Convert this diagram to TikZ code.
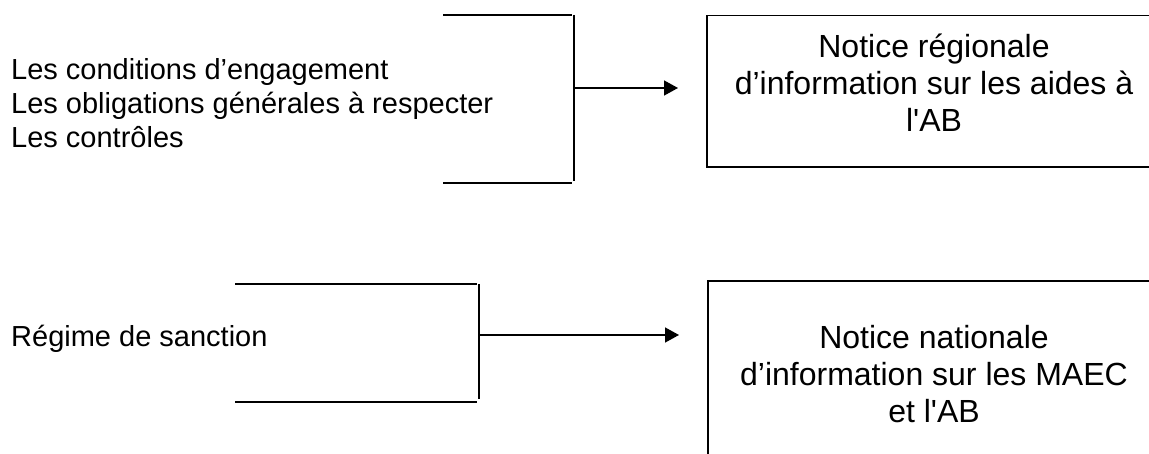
\documentclass[tikz,border=0pt]{standalone}
\usepackage{fontspec}
\setmainfont{Liberation Sans}
\usetikzlibrary{arrows.meta}
\tikzset{
  brk/.style={line width=1.5pt},
  arr/.style={line width=1.5pt,-{Triangle[length=14pt,width=15pt]}},
  notice/.style={draw,line width=1.5pt,rectangle,inner sep=0pt},
  noticetext/.style={align=center,font=\fontsize{32}{36.8}\selectfont,inner sep=0pt},
  lefttext/.style={align=left,font=\fontsize{29}{34.2}\selectfont,inner sep=0pt,anchor=base west}
}
\begin{document}
\begin{tikzpicture}[x=1pt,y=-1pt]
\useasboundingbox (0,0) rectangle (1149,454);
\clip (0,0) rectangle (1149,454);
% top group
\node[lefttext] (l1) at (11,148) {Les conditions d’engagement\\Les obligations générales à respecter\\Les contrôles};
\coordinate (b1a) at (443,15);
\coordinate (b1b) at (574,15);
\coordinate (b1c) at (574,183);
\coordinate (b1d) at (443,183);
\coordinate (b1m) at (574,88);
\coordinate (t1) at (678,88);
\draw[brk] (b1a) -- ([xshift=-2pt]b1b);
\draw[brk] (b1d) -- ([xshift=-2pt]b1c);
\draw[brk] (b1b) -- ([yshift=2pt]b1c);
\draw[arr] (b1m) -- (t1);
\node[notice,minimum width=454pt,minimum height=151.3pt] (r1) at (934,91.3) {};
\node[noticetext] (r1t) at (934,83) {Notice régionale\\d’information sur les aides à\\l\textquotesingle AB};
% bottom group
\node[lefttext] (l2) at (11,347) {Régime de sanction};
\coordinate (b2a) at (235,284);
\coordinate (b2b) at (479,284);
\coordinate (b2c) at (479,402);
\coordinate (b2d) at (235,402);
\coordinate (b2m) at (479,335);
\coordinate (t2) at (679,335);
\draw[brk] (b2a) -- ([xshift=-2pt]b2b);
\draw[brk] (b2d) -- ([xshift=-2pt]b2c);
\draw[brk] (b2b) -- ([yshift=3pt]b2c);
\draw[arr] (b2m) -- (t2);
\node[notice,minimum width=452pt,minimum height=190pt] (r2) at (934,376) {};
\node[noticetext] (r2t) at (934,374) {Notice nationale\\d’information sur les MAEC\\et l\textquotesingle AB};
\end{tikzpicture}
\end{document}
